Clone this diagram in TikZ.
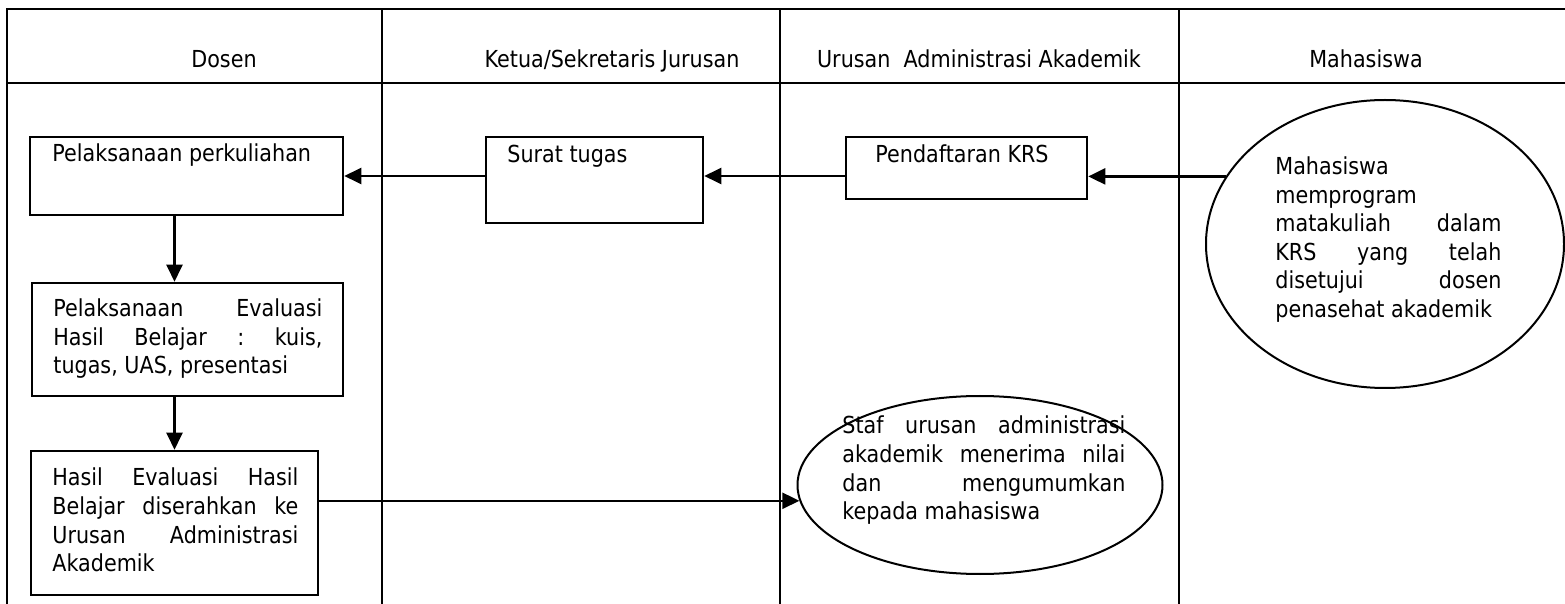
\documentclass[tikz,border=0pt]{standalone}
\usepackage{fontspec}
\setmainfont{DejaVu Sans}[FakeStretch=0.885]
\usetikzlibrary{arrows.meta,shapes.geometric}

\tikzset{
  garis/.style={line width=1.3pt},
  kotak/.style={draw, line width=1.3pt, rectangle, inner sep=0pt},
  elips/.style={draw, line width=1pt, ellipse, inner sep=0pt},
  teks/.style={inner sep=0pt, font=\fontsize{11.7}{14.25}\selectfont},
  blok/.style={teks, text width=#1, align=justify},
  panah/.style={line width=1.2pt, -{Triangle[length=8.5pt,width=8pt]}},
}

\begin{document}
\begin{tikzpicture}[x=0.5pt, y=-0.5pt]
  \useasboundingbox (0,0) rectangle (1565,604);
  % tabel lajur
  \draw[garis] (7,604) -- (7,9) -- (1565,9);
  \draw[garis] (7,83) -- (1565,83);
  \foreach \x in {382,780,1179}
    \draw[garis] (\x,9) -- (\x,604);

  % judul kolom
  \node[teks, anchor=base] (jdosen) at (224,68) {Dosen};
  \node[teks, anchor=base] (jketua) at (612,68) {Ketua/Sekretaris Jurusan};
  \node[teks, anchor=base] (jurusan) at (979,68) {Urusan\ \ Administrasi Akademik};
  \node[teks, anchor=base] (jmhs) at (1366,68) {Mahasiswa};

  % kotak proses
  \node[kotak, minimum width=156.5pt, minimum height=39pt] (perkuliahan) at (186.5,176) {};
  \node[kotak, minimum width=155.5pt, minimum height=56.5pt] (evaluasi) at (187.5,339.5) {};
  \node[kotak, minimum width=143.5pt, minimum height=72pt] (hasil) at (174.5,523) {};
  \node[kotak, minimum width=108.5pt, minimum height=43pt] (surat) at (594.5,180) {};
  \node[kotak, minimum width=120.5pt, minimum height=31pt] (krs) at (966.5,168) {};
  \node[elips, minimum width=179pt, minimum height=144pt] (mhs) at (1385,244) {};
  \node[elips, minimum width=182.5pt, minimum height=89pt] (staf) at (980,485) {};

  % isi kotak
  \node[teks, anchor=base west] (tperkuliahan) at (52,162) {Pelaksanaan perkuliahan};
  \node[teks, anchor=base west] (tsurat) at (507,163) {Surat tugas};
  \node[teks, anchor=base west] (tkrs) at (875,163) {Pendaftaran KRS};
  \node[blok=134.5pt, anchor=base west] (tevaluasi) at (53,317) {%
    Pelaksanaan\hfill Evaluasi\\
    Hasil\hfill Belajar\hfill :\hfill kuis,\\
    tugas, UAS, presentasi};
  \node[blok=123pt, anchor=base west] (thasil) at (52,486) {%
    Hasil\hfill Evaluasi\hfill Hasil\\
    Belajar\hfill diserahkan\hfill ke\\
    Urusan\hfill Administrasi\\
    Akademik};
  \node[blok=113pt, anchor=base west] (tmhs) at (1275,175) {%
    Mahasiswa\\
    memprogram\\
    matakuliah\hfill dalam\\
    KRS\hfill yang\hfill telah\\
    disetujui\hfill dosen\\
    penasehat akademik};
  \node[blok=141.5pt, anchor=base west] (tstaf) at (842,434) {%
    Staf\hfill urusan\hfill administrasi\\
    akademik\hfill menerima\hfill nilai\\
    dan\hfill mengumumkan\\
    kepada mahasiswa};

  % alur
  \draw[panah] (mhs.157) -- (krs.east |- mhs.157);
  \draw[panah] (krs.west |- perkuliahan.east) -- (surat.east |- perkuliahan.east);
  \draw[panah] (surat.west |- perkuliahan.east) -- (perkuliahan.east);
  \draw[panah] (perkuliahan.south -| hasil.north) -- (evaluasi.north -| hasil.north);
  \draw[panah] (evaluasi.south -| hasil.north) -- (hasil.north);
  \draw[panah] (hasil.east |- staf.185) -- (staf.185);
\end{tikzpicture}
\end{document}
